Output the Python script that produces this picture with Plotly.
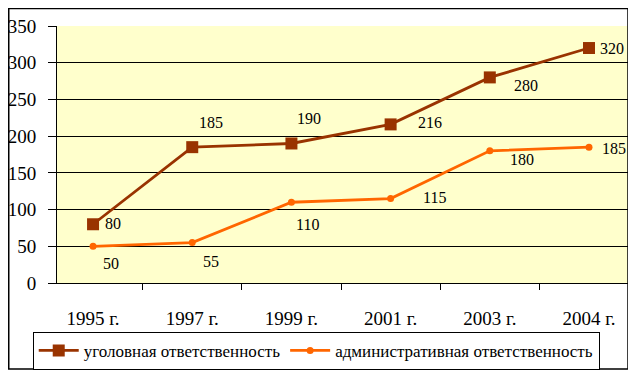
import plotly.graph_objects as go

years = ["1995 г.", "1997 г.", "1999 г.", "2001 г.", "2003 г.", "2004 г."]
criminal = [80, 185, 190, 216, 280, 320]
admin = [50, 55, 110, 115, 180, 185]
name_criminal = "уголовная ответственность"
name_admin = "административная ответственность"

# label offsets (pixels) for data labels
crim_shift = [(10, 1), (5, 25), (4, 25), (25, 2), (22, -8), (9, 0)]
adm_shift = [(8, -17), (9, -19), (3, -22), (30, 1), (18, -9), (11, -1)]

FONT = "Times New Roman, Liberation Serif, DejaVu Serif, serif"
BROWN = "#993300"
ORANGE = "#FF6600"

fig = go.Figure()
fig.add_trace(go.Scatter(x=years, y=criminal, name=name_criminal, mode="lines+markers",
                         line=dict(color=BROWN, width=2.8),
                         marker=dict(symbol="square", size=12, color=BROWN)))
fig.add_trace(go.Scatter(x=years, y=admin, name=name_admin, mode="lines+markers",
                         line=dict(color=ORANGE, width=2.8),
                         marker=dict(symbol="circle", size=7, color=ORANGE)))

for series, shifts in ((criminal, crim_shift), (admin, adm_shift)):
    for xv, yv, (dx, dy) in zip(years, series, shifts):
        fig.add_annotation(x=xv, y=yv, text=str(yv), showarrow=False,
                           xanchor="left", yanchor="middle", xshift=dx, yshift=dy,
                           font=dict(family=FONT, size=16, color="black"))

fig.add_shape(type="rect", xref="paper", yref="paper",
              x0=-0.0845, x1=1.0, y0=-0.335, y1=1.068,
              line=dict(color="black", width=1.5), layer="above")

fig.update_layout(
    width=628, height=369,
    margin=dict(l=49, r=8, t=18, b=94, autoexpand=False),
    paper_bgcolor="white", plot_bgcolor="#FFFFCC",
    font=dict(family=FONT, color="black"),
    showlegend=True,
    legend=dict(orientation="h", x=0.454, y=-0.19, xanchor="center", yanchor="top",
                bordercolor="black", borderwidth=1, bgcolor="white",
                font=dict(family=FONT, size=17), itemwidth=40,
                tracegroupgap=0),
)
fig.update_xaxes(type="category", tickson="boundaries", ticks="outside", ticklen=6,
                 tickcolor="black", showline=True, linecolor="black", linewidth=1,
                 showgrid=False, tickfont=dict(family=FONT, size=19), ticklabelstandoff=18)
fig.update_yaxes(range=[0, 350], dtick=50, ticks="outside", ticklen=8, tickcolor="black",
                 showline=True, linecolor="black", linewidth=1, showgrid=True,
                 gridcolor="black", gridwidth=1, zeroline=False,
                 tickfont=dict(family=FONT, size=19), ticklabelstandoff=8)

fig.write_html("out.html")
